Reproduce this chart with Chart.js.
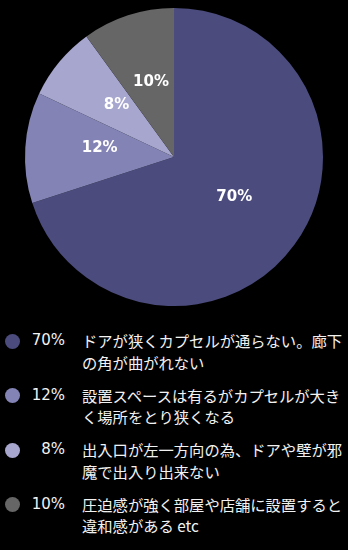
<!DOCTYPE html>
<html>
<head>
<meta charset="utf-8">
<script src="https://cdn.jsdelivr.net/npm/chart.js@4/dist/chart.umd.min.js"></script>
<style>
  html, body { margin: 0; padding: 0; background: #000; }
  body { width: 348px; height: 550px; position: relative; overflow: hidden; }
  #chartBox { position: absolute; left: 0; top: 0; width: 348px; height: 314px; }
  #legend { position: absolute; left: 0; top: 330px; width: 348px; margin: 0; padding: 0; list-style: none;
    font-family: "Noto Sans CJK JP", sans-serif; font-size: 15.3px; line-height: 21.5px; color: #f2f2f2; }
  #legend li { position: relative; padding-left: 82px; width: 265px; height: 43px; margin-bottom: 11.5px; }
  #legend .dot { position: absolute; left: 5px; top: 3.5px; width: 15px; height: 15px; border-radius: 50%; }
  #legend .pct { position: absolute; left: 15px; top: 0; width: 50px; text-align: right;
    font-family: "DejaVu Sans", sans-serif; font-size: 15px; }
</style>
</head>
<body>
<div id="chartBox"><canvas id="pieChart"></canvas></div>
<ul id="legend"></ul>
<script>
const categories = [
    'ドアが狭くカプセルが通らない。廊下の角が曲がれない',
    '設置スペースは有るがカプセルが大きく場所をとり狭くなる',
    '出入口が左一方向の為、ドアや壁が邪魔で出入り出来ない',
    '圧迫感が強く部屋や店舗に設置すると違和感がある etc'
];
const values = [70, 12, 8, 10];
const colors = ['#4b4b7d', '#8383b6', '#a6a6cf', '#666666'];

// labels drawn inside the slices
const sliceLabels = {
    id: 'sliceLabels',
    afterDatasetsDraw(chart) {
        const ctx = chart.ctx;
        const meta = chart.getDatasetMeta(0);
        ctx.save();
        ctx.fillStyle = '#ffffff';
        ctx.font = 'bold 15px "DejaVu Sans", sans-serif';
        ctx.textAlign = 'center';
        ctx.textBaseline = 'middle';
        meta.data.forEach((arc, i) => {
            const p = arc.tooltipPosition();
            ctx.fillText(values[i] + '%', p.x, p.y - 4);
        });
        ctx.restore();
    }
};

const ctx = document.querySelector('#pieChart').getContext('2d');
const pieChart = new Chart(ctx, {
    type: 'pie',
    data: {
        labels: categories,
        datasets: [{
            data: values,
            backgroundColor: colors,
            borderWidth: 0
        }]
    },
    options: {
        responsive: true,
        maintainAspectRatio: false,
        animation: false,
        layout: { padding: 8 },
        plugins: {
            legend: { display: false },
            tooltip: { enabled: false }
        }
    },
    plugins: [sliceLabels]
});

// html legend
const legend = document.querySelector('#legend');
categories.forEach((label, i) => {
    const li = document.createElement('li');
    li.innerHTML = '<span class="dot" style="background:' + colors[i] + '"></span>' +
        '<span class="pct">' + values[i] + '%</span>' + label;
    legend.appendChild(li);
});
</script>
</body>
</html>
